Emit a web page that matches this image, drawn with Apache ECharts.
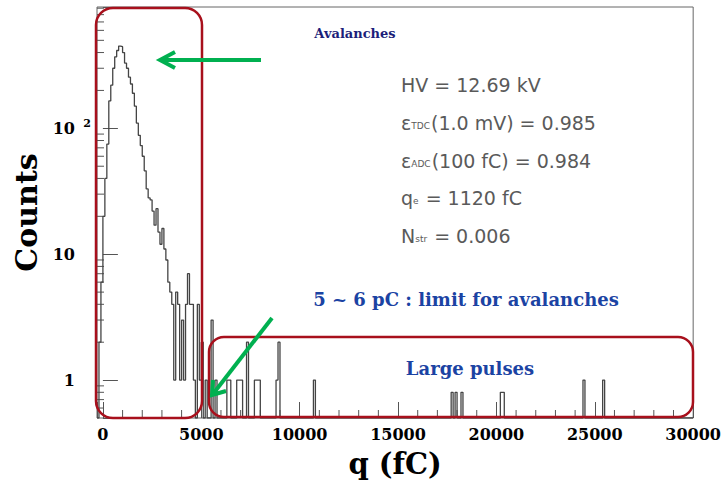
<!DOCTYPE html>
<html>
<head>
<meta charset="utf-8">
<script src="https://cdn.jsdelivr.net/npm/echarts/dist/echarts.min.js"></script>
<style>
  html, body { margin: 0; padding: 0; background: #ffffff; }
  #chart { width: 724px; height: 483px; }
</style>
</head>
<body>
<div id="chart"></div>
<script>
// ---------------- data ----------------
// histogram binning (fC)
const binStart = -300;
const binWidth = 100;
const binCount = 303;            // -300 ... 30000
const xRange = [-300, 30000];
const yRange = [0.5, 920];

// counts of the consecutive bins starting at -300 fC (avalanche region, up to 5000 fC)
const avalancheCounts = [
  0, 2, 6, 20, 40, 75, 165, 220, 300, 370,          // -300 .. 600
  415, 450, 445, 400, 330, 300, 255, 225, 190, 150,  // 700 .. 1600
  110, 88, 73, 60, 46, 33, 28, 27, 22, 17,           // 1700 .. 2600
  23, 15, 12, 16, 11, 9, 6, 5, 4, 1,                 // 2700 .. 3600
  5, 4, 1, 3, 1, 4, 7, 4, 4, 1,                      // 3700 .. 4600
  0, 4, 1                                            // 4700 .. 4900
];

// isolated large pulses: lower bin edge (fC) and content
const pulseQ      = [5000, 5200, 5500, 5700, 6300, 6400, 6800, 6900, 7000, 7300, 7700, 7800, 7900, 8800, 8900, 10700, 17700, 17900, 18200, 20200, 20300, 24400, 25400];
const pulseCounts = [2,    1,    3,    1,    1,    1,    1,    1,    1,    2,    1,    1,    1,    1,    2,    1,     0.8,   0.8,   0.8,   0.8,   0.8,   1,     1];

// axis ticks / labels
const xLabelValues = [0, 5000, 10000, 15000, 20000, 25000, 30000];
const xMinorTicks = [1000, 2000, 3000, 4000, 6000, 7000, 8000, 9000, 11000, 12000, 13000, 14000,
                     16000, 17000, 18000, 19000, 21000, 22000, 23000, 24000, 26000, 27000, 28000, 29000];
const yLabelValues = [1, 10, 100];
const yMinorTicks = [0.6, 0.7, 0.8, 0.9, 2, 3, 4, 5, 6, 7, 8, 9, 20, 30, 40, 50, 60, 70, 80, 90,
                     200, 300, 400, 500, 600, 700, 800, 900];

const statLines = [
  '{a|HV = 12.69 kV}',
  '{a|ε}{s|TDC}{a|(1.0 mV) = 0.985}',
  '{a|ε}{s|ADC}{a|(100 fC) = 0.984}',
  '{a|q}{s|e}{a| = 1120 fC}',
  '{a|N}{s|str}{a| = 0.006}'
];

// ---------------- build histogram ----------------
const counts = new Array(binCount).fill(0);
avalancheCounts.forEach((c, i) => { counts[i] = c; });
pulseQ.forEach((q, k) => { counts[Math.round((q - binStart) / binWidth)] = pulseCounts[k]; });

const histPoints = counts.map((c, i) => [binStart + i * binWidth, c > 0 ? c : yRange[0]]);
histPoints.push([binStart + binCount * binWidth, counts[binCount - 1] > 0 ? counts[binCount - 1] : yRange[0]]);

// ---------------- chart ----------------
const chart = echarts.init(document.getElementById('chart'), null, { renderer: 'svg' });

const tickColor = '#555555';
const serif = '"DejaVu Serif", "Liberation Serif", serif';
const sans = '"DejaVu Sans", "Liberation Sans", sans-serif';
const red = '#a8101c';
const green = '#00b050';

function isClose(a, b) { return Math.abs(a - b) < 1e-6 * Math.max(1, Math.abs(b)); }

const option = {
  backgroundColor: '#ffffff',
  animation: false,
  grid: {
    left: 97, right: 27, top: 7, bottom: 65,
    show: true, borderColor: '#666666', borderWidth: 1, backgroundColor: 'transparent'
  },
  xAxis: {
    type: 'value',
    min: xRange[0], max: xRange[1],
    splitNumber: 6,
    name: 'q (fC)',
    nameLocation: 'middle',
    nameGap: 31,
    nameTextStyle: { fontFamily: serif, fontWeight: 'bold', fontSize: 29, color: '#000' },
    axisLine: { show: false },
    splitLine: { show: false },
    axisTick: { show: true, inside: true, length: 16, lineStyle: { color: tickColor, width: 1 } },
    axisLabel: {
      margin: 8,
      fontFamily: serif, fontWeight: 'bold', fontSize: 16, color: '#000',
      showMinLabel: true, showMaxLabel: true,
      formatter: v => (xLabelValues.some(t => isClose(v, t)) ? String(Math.round(v)) : '')
    }
  },
  yAxis: {
    type: 'log',
    logBase: 10,
    min: yRange[0], max: yRange[1],
    name: 'Counts',
    nameLocation: 'middle',
    nameRotate: 90,
    nameGap: 47,
    nameTextStyle: { fontFamily: serif, fontWeight: 'bold', fontSize: 30, color: '#000' },
    axisLine: { show: false },
    splitLine: { show: false },
    axisTick: { show: true, inside: true, length: 15, lineStyle: { color: tickColor, width: 1 } },
    axisLabel: {
      margin: 6,
      fontFamily: serif, fontWeight: 'bold', fontSize: 16, color: '#000',
      formatter: v => {
        if (isClose(v, yLabelValues[0])) return '{n|1}';
        if (isClose(v, yLabelValues[1])) return '{n|10}';
        if (isClose(v, yLabelValues[2])) return '{m|10}{sup|2}';
        return '';
      },
      rich: {
        n: { fontFamily: serif, fontWeight: 'bold', fontSize: 16, color: '#000', padding: [0, 16, 0, 0] },
        m: { fontFamily: serif, fontWeight: 'bold', fontSize: 16, color: '#000' },
        sup: { fontFamily: serif, fontWeight: 'bold', fontSize: 11, color: '#000', width: 16, align: 'right', verticalAlign: 'top', padding: [0, 0, 10, 0] }
      }
    }
  },
  series: [
    {
      name: 'Counts',
      type: 'line',
      data: histPoints,
      step: 'end',
      showSymbol: false,
      symbol: 'none',
      clip: true,
      lineStyle: { color: '#444444', width: 1.3 },
      z: 3
    },
    {
      name: 'xMinor',
      type: 'custom',
      silent: true,
      data: xMinorTicks.map(v => [v, yRange[0]]),
      renderItem: (params, api) => {
        const p = api.coord([api.value(0), api.value(1)]);
        return { type: 'line', shape: { x1: p[0], y1: p[1], x2: p[0], y2: p[1] - 8 }, style: { stroke: tickColor, lineWidth: 1 } };
      },
      z: 2
    },
    {
      name: 'yMinor',
      type: 'custom',
      silent: true,
      data: yMinorTicks.map(v => [xRange[0], v]),
      renderItem: (params, api) => {
        const p = api.coord([api.value(0), api.value(1)]);
        return { type: 'line', shape: { x1: p[0], y1: p[1], x2: p[0] + 7, y2: p[1] }, style: { stroke: tickColor, lineWidth: 1 } };
      },
      z: 2
    }
  ],
  graphic: [
    // red rounded boxes
    { type: 'rect', z: 100, shape: { x: 96, y: 8, width: 106, height: 410, r: 17 }, style: { fill: 'none', stroke: red, lineWidth: 2.5 } },
    { type: 'rect', z: 100, shape: { x: 209, y: 337, width: 484, height: 80, r: 15 }, style: { fill: 'none', stroke: red, lineWidth: 2.5 } },
    // green arrow 1
    { type: 'polyline', z: 101, shape: { points: [[261, 60], [161, 60]] }, style: { stroke: green, lineWidth: 4, fill: 'none' } },
    { type: 'polyline', z: 101, shape: { points: [[175, 52], [160, 60], [175, 68]] }, style: { stroke: green, lineWidth: 4, fill: 'none', lineJoin: 'miter' } },
    // green arrow 2
    { type: 'polyline', z: 101, shape: { points: [[272, 318], [213, 394]] }, style: { stroke: green, lineWidth: 4, fill: 'none' } },
    { type: 'polyline', z: 101, shape: { points: [[213, 380], [212, 395], [226, 391]] }, style: { stroke: green, lineWidth: 4, fill: 'none', lineJoin: 'miter' } },
    // annotation texts
    { type: 'text', z: 102, x: 355, y: 33, style: { text: 'Avalanches', font: 'bold 13px ' + serif, fill: '#1c1f7a', align: 'center', verticalAlign: 'middle' } },
    { type: 'text', z: 102, x: 466, y: 299, style: { text: '5 ~ 6 pC : limit for avalanches', font: 'bold 18px ' + serif, fill: '#1b43a3', align: 'center', verticalAlign: 'middle' } },
    { type: 'text', z: 102, x: 470, y: 368, style: { text: 'Large pulses', font: 'bold 18px ' + serif, fill: '#1b43a3', align: 'center', verticalAlign: 'middle' } },
    // statistics box text
    ...statLines.map((t, i) => ({
      type: 'text', z: 102, x: 401, y: 85 + i * 37.8,
      style: {
        text: t, align: 'left', verticalAlign: 'middle',
        rich: {
          a: { fontFamily: sans, fontSize: 19, fill: '#5a5a5a', color: '#5a5a5a' },
          s: { fontFamily: sans, fontSize: 9, fill: '#5a5a5a', color: '#5a5a5a', verticalAlign: 'bottom', padding: [0, 1, 2, 0] }
        }
      }
    }))
  ]
};

chart.setOption(option);
</script>
</body>
</html>
